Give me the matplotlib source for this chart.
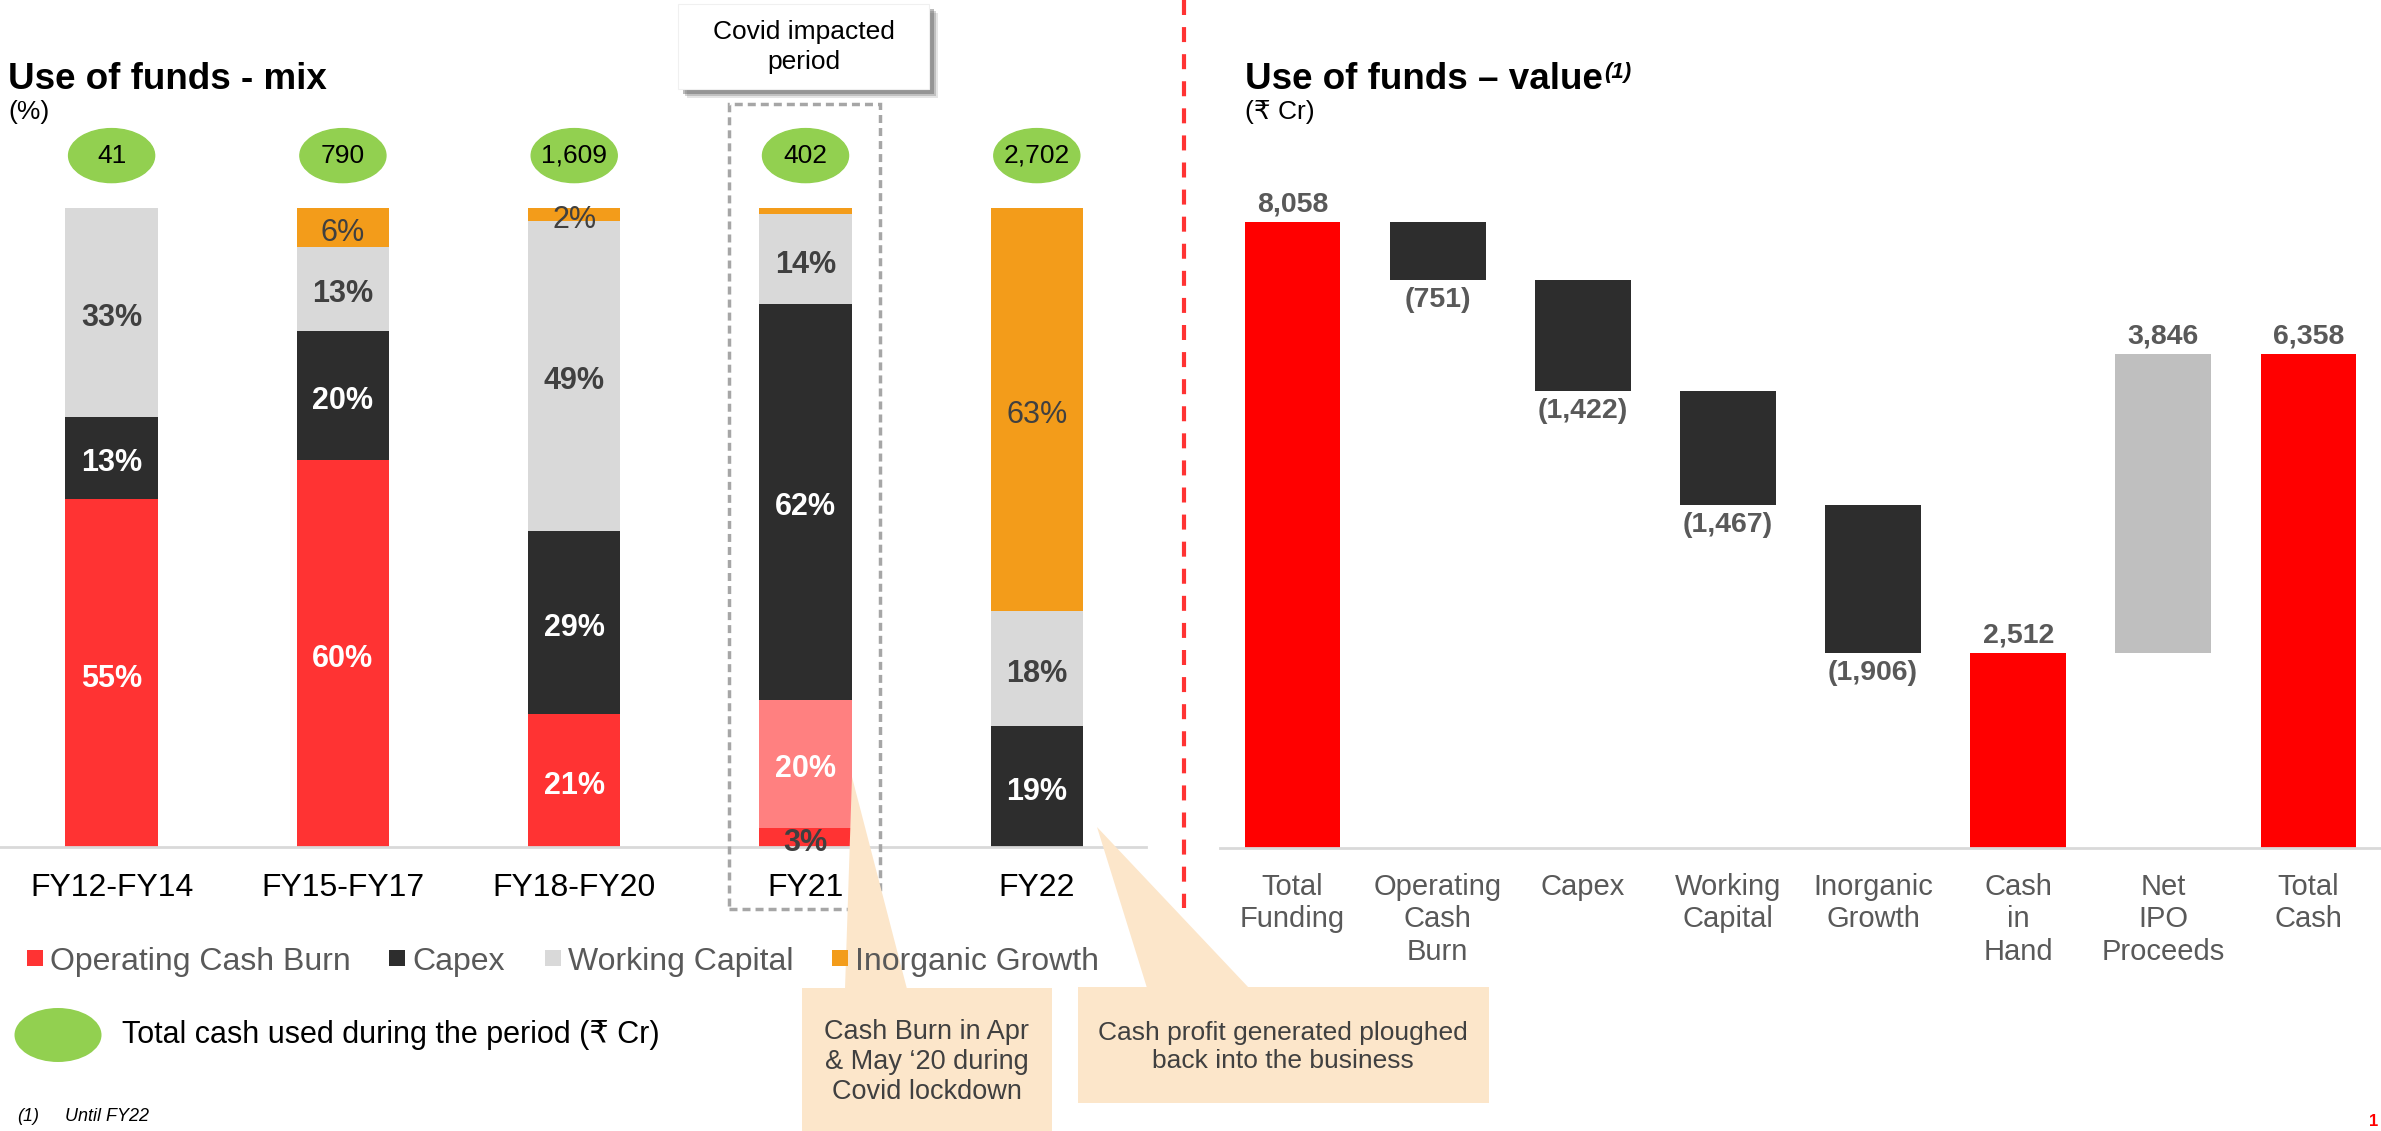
import matplotlib
matplotlib.use("Agg")
import matplotlib.pyplot as plt
from matplotlib.patches import Rectangle, Ellipse, Polygon
from matplotlib.lines import Line2D

plt.rcParams['font.family'] = ['Liberation Sans', 'DejaVu Sans']

# ---- data: use of funds mix (%) ----
periods = ["FY12-FY14", "FY15-FY17", "FY18-FY20", "FY21", "FY22"]
op_burn = [55, 60, 21, 3, 0]
op_burn_covid = [0, 0, 0, 20, 0]
capex = [13, 20, 29, 62, 19]
working_cap = [33, 13, 49, 14, 18]
inorganic = [0, 6, 2, 1, 63]
total_cash_used = ["41", "790", "1,609", "402", "2,702"]

# ---- data: use of funds value (Rs Cr) ----
wf_labels = ["Total\nFunding", "Operating\nCash\nBurn", "Capex", "Working\nCapital",
             "Inorganic\nGrowth", "Cash\nin\nHand", "Net\nIPO\nProceeds", "Total\nCash"]
wf_values = [8058, -751, -1422, -1467, -1906, 2512, 3846, 6358]
wf_kind = ["total", "step", "step", "step", "step", "total", "step", "total"]

RED = "#FF3333"
PINK = "#FF8080"
DARK = "#2D2D2D"
LIGHT = "#D9D9D9"
ORANGE = "#F39C1A"
GREEN = "#92D050"
PEACH = "#FCE6CA"
TXT = "#404040"
GREY_TXT = "#595959"

W, H = 2381, 1131


def fx(px):
    return px / W


def fy(py):
    return 1 - py / H


fig = plt.figure(figsize=(W / 100, H / 100), dpi=100)

# ================= left: stacked 100% bars =================
ax1 = fig.add_axes([0, fy(847), fx(1146), (847 - 208) / H])
x = list(range(len(periods)))
series = [
    (op_burn, RED, "white", "bold"),
    (op_burn_covid, PINK, "white", "bold"),
    (capex, DARK, "white", "bold"),
    (working_cap, LIGHT, TXT, "bold"),
    (inorganic, ORANGE, TXT, "normal"),
]
sums = [sum(col) for col in zip(*[s[0] for s in series])]
bottom = [0.0] * len(periods)
for vals, color, tcol, weight in series:
    heights = [v / s * 100 for v, s in zip(vals, sums)]
    ax1.bar(x, heights, width=0.4, bottom=bottom, color=color, linewidth=0, zorder=2)
    for i, (v, h) in enumerate(zip(vals, heights)):
        if v < 2:
            continue
        c = tcol if h >= 5 else TXT
        ax1.annotate(f"{v}%", (i, bottom[i] + h / 2), xytext=(0, -4), textcoords="offset points",
                     ha="center", va="center", fontsize=22, color=c, fontweight=weight, zorder=3)
    bottom = [b + h for b, h in zip(bottom, heights)]

# total cash used bubbles
for i, t in enumerate(total_cash_used):
    ax1.add_patch(Ellipse((i, 108.2), 0.372, 8.45, color=GREEN, clip_on=False, zorder=3))
    ax1.text(i, 108.2, t, ha="center", va="center", fontsize=19, color="black", zorder=4)

# covid highlight frame
ax1.add_patch(Rectangle((2.671, -9.7), 0.649, 126.0, fill=False, edgecolor="#A6A6A6",
                        linewidth=2.5, linestyle=(0, (2.3, 1.45)), clip_on=False, zorder=6))

ax1.set_xlim(-0.4825, 4.472)
ax1.set_ylim(0, 100)
ax1.set_xticks(x, periods, fontsize=23, color="black")
ax1.tick_params(axis="x", length=0, pad=19)
ax1.set_yticks([])
for s in ["top", "left", "right"]:
    ax1.spines[s].set_visible(False)
ax1.spines["bottom"].set_color(LIGHT)
ax1.spines["bottom"].set_linewidth(2)

# ================= right: waterfall =================
ax2 = fig.add_axes([fx(1220), fy(848), 1 - fx(1220), (848 - 208) / H])
running = 0
for i, (v, k) in enumerate(zip(wf_values, wf_kind)):
    if k == "total":
        b, h = 0, v
        running = v
        color = "#FF0000"
    else:
        b, h = running + min(v, 0), abs(v)
        running += v
        color = DARK if v < 0 else "#BFBFBF"
    ax2.bar(i, h, bottom=b, width=0.66, color=color, linewidth=0, zorder=2)
    if v >= 0:
        ax2.annotate(f"{v:,}", (i, b + h), xytext=(0, 3), textcoords="offset points",
                     ha="center", va="bottom", fontsize=20.5, fontweight="bold", color=GREY_TXT)
    else:
        ax2.annotate(f"({-v:,})", (i, b), xytext=(0, -5), textcoords="offset points",
                     ha="center", va="top", fontsize=20.5, fontweight="bold", color=GREY_TXT)

ax2.set_xlim(-0.5, 7.5)
ax2.set_ylim(0, (848 - 208) / 0.07769)
ax2.set_xticks(range(len(wf_labels)), wf_labels, fontsize=21, color=GREY_TXT, linespacing=1.2)
ax2.tick_params(axis="x", length=0, pad=18)
ax2.set_yticks([])
for s in ["top", "left", "right"]:
    ax2.spines[s].set_visible(False)
ax2.spines["bottom"].set_color(LIGHT)
ax2.spines["bottom"].set_linewidth(2)

# ================= titles =================
fig.text(fx(8), fy(89), "Use of funds - mix", fontsize=26.5, fontweight="bold", va="baseline")
fig.text(fx(8), fy(119), "(%)", fontsize=19, va="baseline")
t2 = fig.text(fx(1245), fy(89), "Use of funds \u2013 value", fontsize=26.5, fontweight="bold",
              va="baseline")
fig.text(fx(1245), fy(119), "(\u20b9 Cr)", fontsize=19, va="baseline")
r = fig.canvas.get_renderer()
x1 = t2.get_window_extent(renderer=r).x1
fig.text(fx(x1 + 1), fy(78), "(1)", fontsize=16, fontweight="bold", fontstyle="italic",
         va="baseline")

# covid impacted period box with shadow
for off, a in [(9, 0.15), (7, 0.25), (5, 0.4)]:
    fig.patches.append(Rectangle((fx(678 + off), fy(89 + off)), fx(251), 85 / H,
                                 transform=fig.transFigure, facecolor="#555555",
                                 edgecolor="none", alpha=a, zorder=1))
fig.patches.append(Rectangle((fx(678), fy(89)), fx(251), 85 / H, transform=fig.transFigure,
                             facecolor="white", edgecolor="#F0F0F0", linewidth=0.8, zorder=2))
fig.text(fx(804), fy(47), "Covid impacted\nperiod", ha="center", va="center", fontsize=19,
         color="black", linespacing=1.3, zorder=3)

# divider
fig.add_artist(Line2D([fx(1184), fx(1184)], [fy(0), fy(908)], color=RED, linewidth=3,
                      linestyle=(0, (3.6, 2.9))))

# ================= callouts =================
fig.patches.append(Polygon([(fx(852), fy(777)), (fx(845), fy(989)), (fx(907), fy(989))],
                           closed=True, transform=fig.transFigure, facecolor=PEACH,
                           edgecolor="none", zorder=2))
fig.patches.append(Rectangle((fx(802), fy(1131)), fx(250), 143 / H, transform=fig.transFigure,
                             facecolor=PEACH, edgecolor="none", zorder=2))
fig.text(fx(927), fy(1062), "Cash Burn in Apr\n& May \u201820 during\nCovid lockdown",
         ha="center", va="center", fontsize=19.5, color=TXT, linespacing=1.2, zorder=3)

fig.patches.append(Polygon([(fx(1097), fy(827)), (fx(1147), fy(988)), (fx(1249), fy(988))],
                           closed=True, transform=fig.transFigure, facecolor=PEACH,
                           edgecolor="none", zorder=2))
fig.patches.append(Rectangle((fx(1078), fy(1103)), fx(411), 116 / H, transform=fig.transFigure,
                             facecolor=PEACH, edgecolor="none", zorder=2))
fig.text(fx(1283), fy(1047), "Cash profit generated ploughed\nback into the business",
         ha="center", va="center", fontsize=19, color=TXT, linespacing=1.2, zorder=3)

# ================= legend =================
legend_items = [("Operating Cash Burn", RED, 27), ("Capex", DARK, 389),
                ("Working Capital", LIGHT, 545), ("Inorganic Growth", ORANGE, 832)]
for name, color, px in legend_items:
    fig.patches.append(Rectangle((fx(px), fy(966)), fx(16), 16 / H, transform=fig.transFigure,
                                 facecolor=color, edgecolor="none", zorder=4))
    fig.text(fx(px + 23), fy(970), name, fontsize=23, color=GREY_TXT, va="baseline", zorder=5)

fig.patches.append(Ellipse((fx(58), fy(1035)), fx(87), 54 / H, transform=fig.transFigure,
                           facecolor=GREEN, edgecolor="none", zorder=4))
fig.text(fx(122), fy(1043), "Total cash used during the period (\u20b9 Cr)", fontsize=22,
         color="black", va="baseline", zorder=5)

fig.text(fx(17), fy(1121), "(1)", fontsize=13, fontstyle="italic", va="baseline")
fig.text(fx(65), fy(1121), "Until FY22", fontsize=13, fontstyle="italic", va="baseline")
fig.text(fx(2378), fy(1129), "1", fontsize=12, fontweight="bold", color="#FF0000",
         ha="right", va="bottom")

fig.savefig("out.png", dpi=100)
